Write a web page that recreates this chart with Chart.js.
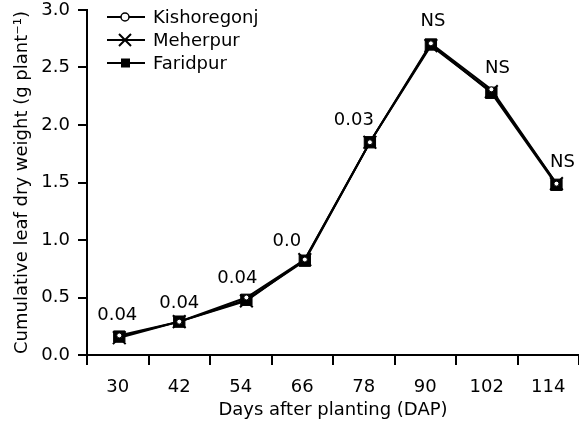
<!DOCTYPE html>
<html>
<head>
<meta charset="utf-8">
<script src="https://cdn.jsdelivr.net/npm/chart.js@4.4.0/dist/chart.umd.min.js"></script>
<style>
  body { margin: 0; background: #fff; }
  #wrap { width: 579px; height: 427px; }
</style>
</head>
<body>
<div id="wrap"><canvas id="leaf-chart" width="579" height="427"></canvas></div>
<script>
// sampling days shown on the axis, and where each sample sits on it
const days = [30, 42, 54, 66, 78, 90, 102, 114];
const plotDay = [30.3, 42, 55.1, 66.5, 79.2, 91.1, 102.9, 115.6];

const kishoregonj = [0.17, 0.29, 0.50, 0.83, 1.85, 2.71, 2.31, 1.49];
const meherpur = [0.15, 0.29, 0.47, 0.83, 1.85, 2.69, 2.29, 1.49];
const faridpur = [0.16, 0.29, 0.48, 0.82, 1.85, 2.70, 2.28, 1.48];

// significance notes printed over each sampling date
const sigNotes = ["0.04", "0.04", "0.04", "0.0", "0.03", "NS", "NS", "NS"];

const yTicks = [0, 0.5, 1.0, 1.5, 2.0, 2.5, 3.0];

const black = "#000";
const fontSize = 18;
Chart.defaults.font.family = "'DejaVu Sans', sans-serif";
Chart.defaults.font.size = fontSize;
Chart.defaults.color = black;

function pts(values) {
    return values.map((v, i) => ({ x: plotDay[i], y: v }));
}

// hand drawn legend inside the plot, like the original figure
const legendInside = {
    id: "legendInside",
    afterDraw(chart) {
        const ctx = chart.ctx;
        chart.data.datasets.forEach((ds, i) => {
            const y = 17 + i * 23;
            ctx.save();
            ctx.strokeStyle = black;
            ctx.lineWidth = 2;
            ctx.beginPath();
            ctx.moveTo(107, y);
            ctx.lineTo(145, y);
            ctx.stroke();
            if (ds.pointStyle === "circle") {
                ctx.fillStyle = "#fff";
                ctx.lineWidth = 1.5;
                ctx.beginPath();
                ctx.arc(125, y, 4, 0, Math.PI * 2);
                ctx.fill();
                ctx.stroke();
            } else if (ds.pointStyle === "crossRot") {
                ctx.beginPath();
                ctx.moveTo(119, y - 6); ctx.lineTo(131, y + 6);
                ctx.moveTo(131, y - 6); ctx.lineTo(119, y + 6);
                ctx.stroke();
            } else {
                ctx.fillStyle = black;
                ctx.fillRect(121, y - 4.5, 9, 9);
            }
            ctx.fillStyle = black;
            ctx.font = fontSize + "px 'DejaVu Sans'";
            ctx.textAlign = "left";
            ctx.textBaseline = "middle";
            ctx.fillText(ds.label, 153, y + 1);
            ctx.restore();
        });
    }
};

const noteShift = [[-2, -20], [0, -18], [-9, -19], [-18, -18], [-16, -22], [2, -22], [6, -21], [6, -21]];
const sigLabels = {
    id: "sigLabels",
    afterDatasetsDraw(chart) {
        const ctx = chart.ctx;
        const xs = chart.scales.x, ys = chart.scales.y;
        ctx.save();
        ctx.fillStyle = black;
        ctx.font = fontSize + "px 'DejaVu Sans'";
        ctx.textAlign = "center";
        ctx.textBaseline = "middle";
        sigNotes.forEach((txt, i) => {
            const top = Math.max(kishoregonj[i], meherpur[i], faridpur[i]);
            const x = xs.getPixelForValue(plotDay[i]) + noteShift[i][0];
            const y = ys.getPixelForValue(top) + noteShift[i][1];
            ctx.fillText(txt, x, y);
        });
        ctx.restore();
    }
};

function LoadLeafChart() {
    new Chart(document.getElementById("leaf-chart"), {
        type: "line",
        data: {
            datasets: [
                {
                    label: "Kishoregonj",
                    data: pts(kishoregonj),
                    borderColor: black,
                    borderWidth: 2,
                    pointStyle: "circle",
                    pointRadius: 2.5,
                    pointBackgroundColor: "#fff",
                    pointBorderColor: black,
                    pointBorderWidth: 1
                },
                {
                    label: "Meherpur",
                    data: pts(meherpur),
                    borderColor: black,
                    borderWidth: 2,
                    pointStyle: "crossRot",
                    pointRadius: 9,
                    pointBorderColor: black,
                    pointBorderWidth: 2
                },
                {
                    label: "Faridpur",
                    data: pts(faridpur),
                    borderColor: black,
                    borderWidth: 2,
                    pointStyle: "rect",
                    pointRadius: 8,
                    pointBackgroundColor: black,
                    pointBorderColor: black,
                    pointBorderWidth: 1
                }
            ]
        },
        options: {
            responsive: false,
            animation: false,
            layout: { padding: 0, autoPadding: false },
            plugins: {
                legend: { display: false },
                tooltip: { enabled: false }
            },
            scales: {
                x: {
                    type: "linear",
                    min: 24,
                    max: 120,
                    afterFit: s => { s.height = 72; s.paddingRight = 0; },
                    border: { display: true, color: black, width: 2 },
                    grid: {
                        drawOnChartArea: false,
                        drawTicks: true,
                        tickLength: 10,
                        lineWidth: 2,
                        tickColor: c => (c.tick && c.tick.value % 12 === 0) ? black : "rgba(0,0,0,0)"
                    },
                    ticks: {
                        stepSize: 6,
                        autoSkip: false,
                        maxRotation: 0,
                        padding: 12,
                        callback: v => days.includes(v) ? String(v) : ""
                    },
                    title: {
                        display: true,
                        text: "Days after planting (DAP)",
                        padding: { top: 0, bottom: 6 }
                    }
                },
                y: {
                    min: 0,
                    max: 3,
                    afterFit: s => { s.width = 87; s.paddingTop = 10; },
                    afterBuildTicks: s => { s.ticks = yTicks.map(v => ({ value: v })); },
                    border: { display: true, color: black, width: 2 },
                    grid: {
                        drawOnChartArea: false,
                        drawTicks: true,
                        tickLength: 9,
                        lineWidth: 2,
                        color: black
                    },
                    ticks: {
                        padding: 8,
                        callback: v => v.toFixed(1)
                    },
                    title: {
                        display: true,
                        text: "Cumulative leaf dry weight (g plant\u207B\u00B9)",
                        padding: { top: 12, bottom: 0 }
                    }
                }
            }
        },
        plugins: [legendInside, sigLabels]
    });
}

document.addEventListener("DOMContentLoaded", () => {
    LoadLeafChart();
});
</script>
</body>
</html>
